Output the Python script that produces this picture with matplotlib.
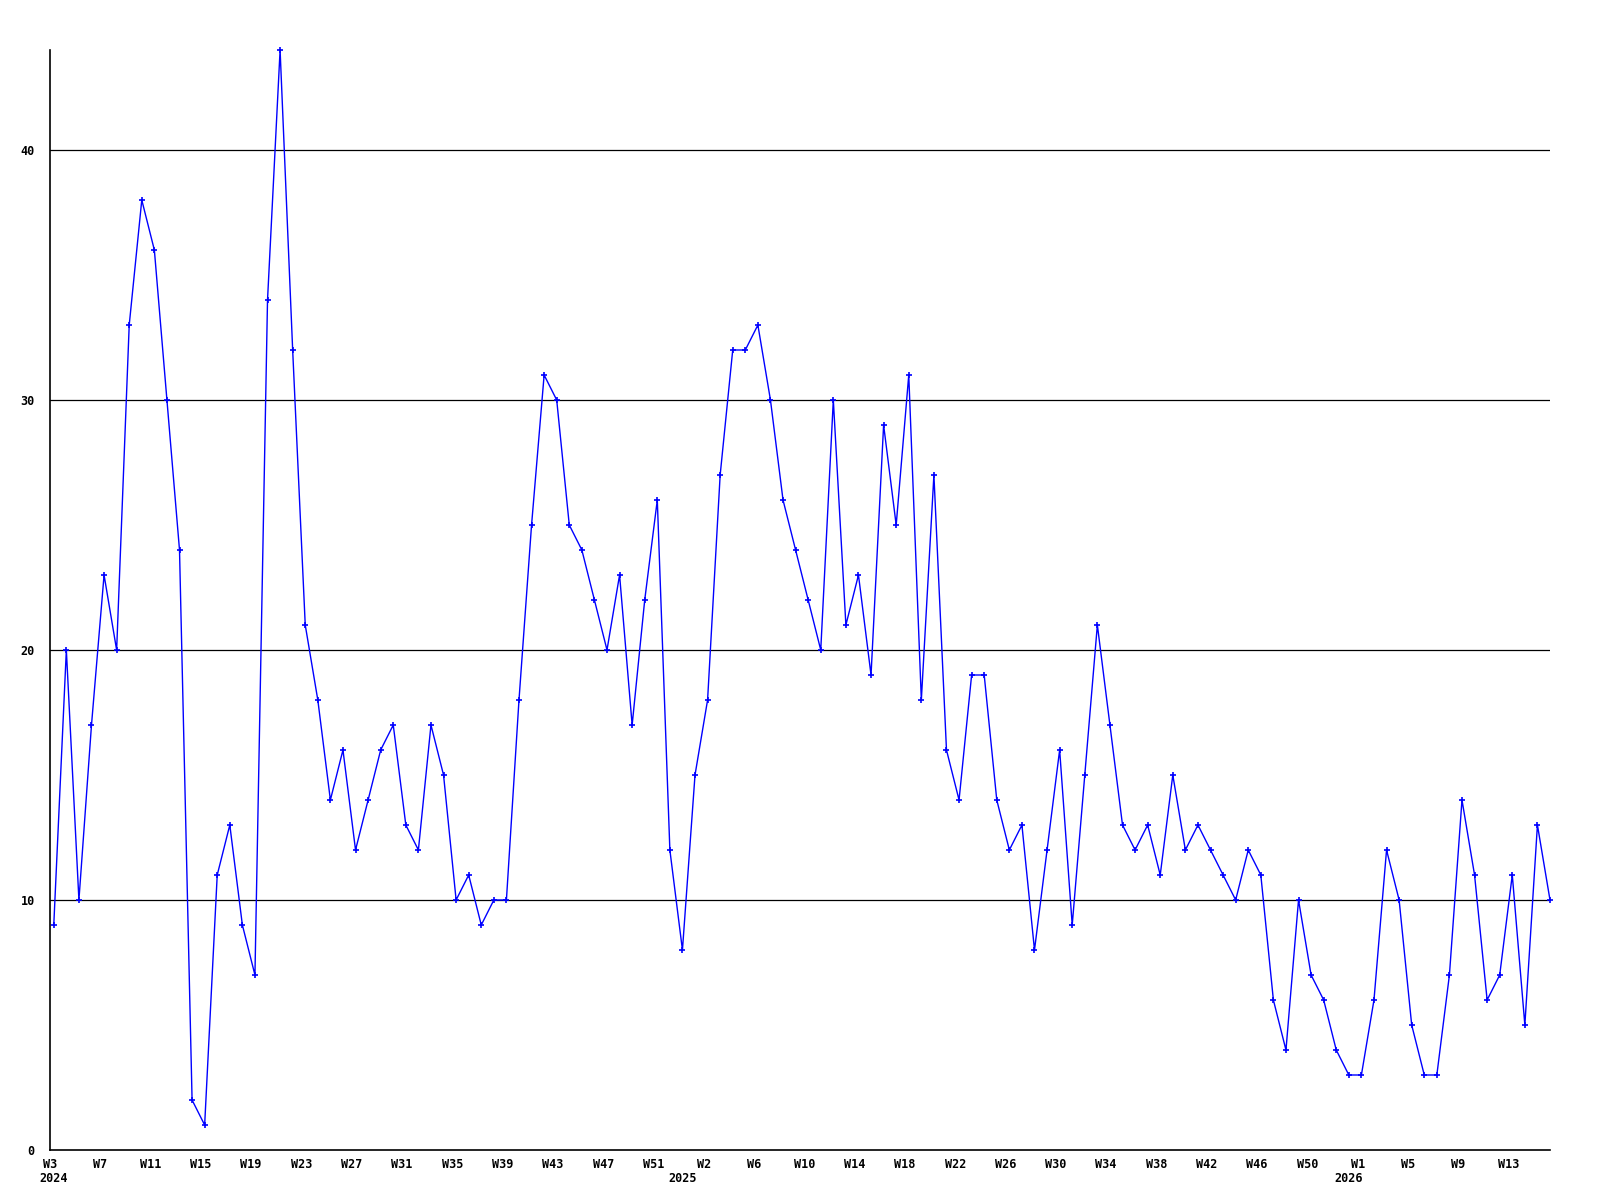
import numpy as np
from matplotlib import pyplot as plt

# valores semanales (desde W3 2024)
valores = [9, 20, 10, 17, 23, 20, 33, 38, 36, 30,
           24, 2, 1, 11, 13, 9, 7, 34, 44, 32,
           21, 18, 14, 16, 12, 14, 16, 17, 13, 12,
           17, 15, 10, 11, 9, 10, 10, 18, 25, 31,
           30, 25, 24, 22, 20, 23, 17, 22, 26, 12,
           8, 15, 18, 27, 32, 32, 33, 30, 26, 24,
           22, 20, 30, 21, 23, 19, 29, 25, 31, 18,
           27, 16, 14, 19, 19, 14, 12, 13, 8, 12,
           16, 9, 15, 21, 17, 13, 12, 13, 11, 15,
           12, 13, 12, 11, 10, 12, 11, 6, 4, 10,
           7, 6, 4, 3, 3, 6, 12, 10, 5, 3,
           3, 7, 14, 11, 6, 7, 11, 5, 13, 10]

# semanas por año (numeración tipo %U, la semana 0 abre el año)
anios = ["2024", "2025", "2026"]
semanas_anio = [range(3, 53), range(0, 53), range(0, 17)]

etiquetas_x = ["W3", "W7", "W11", "W15", "W19", "W23", "W27", "W31", "W35",
               "W39", "W43", "W47", "W51", "W2", "W6", "W10", "W14", "W18",
               "W22", "W26", "W30", "W34", "W38", "W42", "W46", "W50", "W1",
               "W5", "W9", "W13"]
ticks_y = [0, 10, 20, 30, 40]

x = np.arange(len(valores))
# índice donde empieza cada año
inicio_anio = np.cumsum([0] + [len(s) for s in semanas_anio])[:-1]

fig = plt.figure(figsize=(16, 12), dpi=100)
ax = fig.add_axes([50 / 1600, 50 / 1200, 1500 / 1600, 1100 / 1200])

for v in ticks_y[1:]:
    ax.axhline(v, color='black', lw=0.9, zorder=1)

ax.plot(x, valores, color='#0000ff', lw=1.0, marker='+', ms=5, mew=1.2,
        zorder=3, clip_on=False)

ax.set_xlim(0, len(valores) - 1)
ax.set_ylim(0, max(valores))

fuente = dict(family='DejaVu Sans Mono', fontweight='bold', fontsize=8.5)

ax.set_yticks(ticks_y)
ax.set_yticklabels([str(v) for v in ticks_y], **fuente)
ax.set_xticks(x[::4][:len(etiquetas_x)] - 0.3)
ax.set_xticklabels(etiquetas_x, **fuente)
ax.tick_params(axis='both', length=0)
ax.tick_params(axis='y', pad=11)
ax.tick_params(axis='x', pad=6)

for anio, i in zip(anios, inicio_anio):
    ax.annotate(anio, xy=(i, 0), xycoords='data', xytext=(0, -16),
                textcoords='offset points', ha='center', va='top', **fuente)

for lado in ['top', 'right']:
    ax.spines[lado].set_visible(False)
ax.spines['left'].set_linewidth(1.2)
ax.spines['bottom'].set_linewidth(1.2)

fig.savefig('out.png', dpi=100, facecolor='white')
